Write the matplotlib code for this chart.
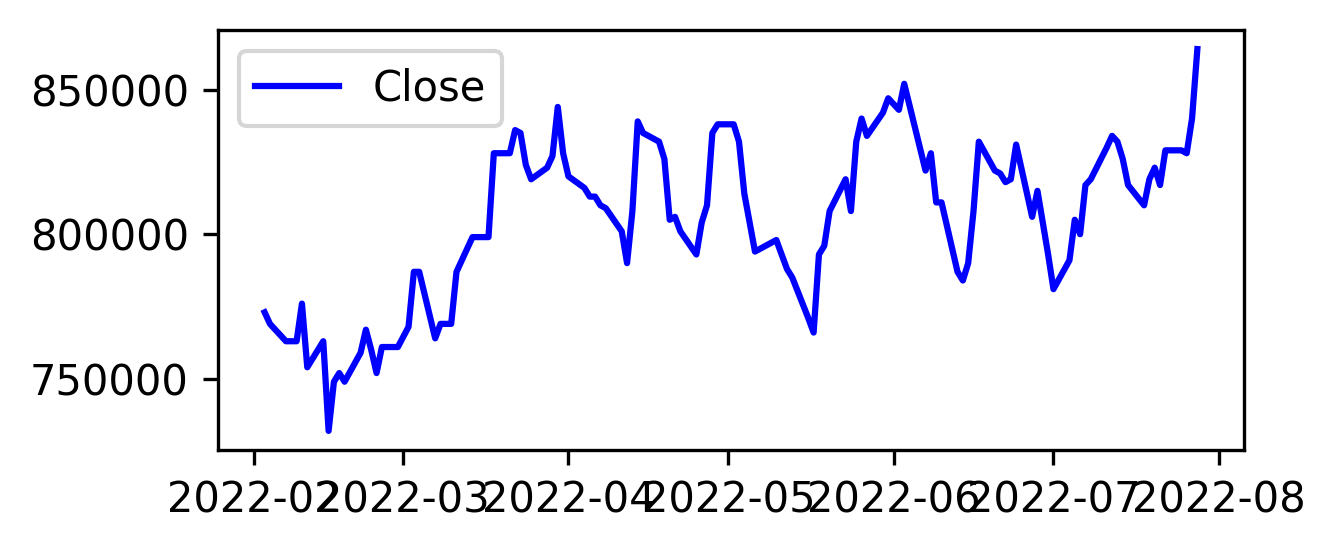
import matplotlib
matplotlib.use("Agg")
import matplotlib.pyplot as plt
import pandas as pd

# KRX trading days, 2022-02-03 .. 2022-07-28
dates = [
    "2022-02-03", "2022-02-04", "2022-02-07", "2022-02-08", "2022-02-09", "2022-02-10",
    "2022-02-11", "2022-02-14", "2022-02-15", "2022-02-16", "2022-02-17", "2022-02-18",
    "2022-02-21", "2022-02-22", "2022-02-23", "2022-02-24", "2022-02-25", "2022-02-28",
    "2022-03-02", "2022-03-03", "2022-03-04", "2022-03-07", "2022-03-08", "2022-03-10",
    "2022-03-11", "2022-03-14", "2022-03-15", "2022-03-16", "2022-03-17", "2022-03-18",
    "2022-03-21", "2022-03-22", "2022-03-23", "2022-03-24", "2022-03-25", "2022-03-28",
    "2022-03-29", "2022-03-30", "2022-03-31", "2022-04-01", "2022-04-04", "2022-04-05",
    "2022-04-06", "2022-04-07", "2022-04-08", "2022-04-11", "2022-04-12", "2022-04-13",
    "2022-04-14", "2022-04-15", "2022-04-18", "2022-04-19", "2022-04-20", "2022-04-21",
    "2022-04-22", "2022-04-25", "2022-04-26", "2022-04-27", "2022-04-28", "2022-04-29",
    "2022-05-02", "2022-05-03", "2022-05-04", "2022-05-06", "2022-05-09", "2022-05-10",
    "2022-05-11", "2022-05-12", "2022-05-13", "2022-05-16", "2022-05-17", "2022-05-18",
    "2022-05-19", "2022-05-20", "2022-05-23", "2022-05-24", "2022-05-25", "2022-05-26",
    "2022-05-27", "2022-05-30", "2022-05-31", "2022-06-02", "2022-06-03", "2022-06-07",
    "2022-06-08", "2022-06-09", "2022-06-10", "2022-06-13", "2022-06-14", "2022-06-15",
    "2022-06-16", "2022-06-17", "2022-06-20", "2022-06-21", "2022-06-22", "2022-06-23",
    "2022-06-24", "2022-06-27", "2022-06-28", "2022-06-29", "2022-06-30", "2022-07-01",
    "2022-07-04", "2022-07-05", "2022-07-06", "2022-07-07", "2022-07-08", "2022-07-11",
    "2022-07-12", "2022-07-13", "2022-07-14", "2022-07-15", "2022-07-18", "2022-07-19",
    "2022-07-20", "2022-07-21", "2022-07-22", "2022-07-25", "2022-07-26", "2022-07-27",
    "2022-07-28",
]

close = [
    773000, 769000, 763000, 763000, 763000, 776000,
    754000, 763000, 732000, 749000, 752000, 749000,
    759000, 767000, 760000, 752000, 761000, 761000,
    768000, 787000, 787000, 764000, 769000, 769000,
    787000, 799000, 799000, 799000, 799000, 828000,
    828000, 836000, 835000, 824000, 819000, 823000,
    827000, 844000, 828000, 820000, 816000, 813000,
    813000, 810000, 809000, 801000, 790000, 808000,
    839000, 835000, 832000, 826000, 805000, 806000,
    801000, 793000, 804000, 810000, 835000, 838000,
    838000, 832000, 814000, 794000, 797000, 798000,
    793000, 788000, 785000, 771000, 766000, 793000,
    796000, 808000, 819000, 808000, 832000, 840000,
    834000, 842000, 847000, 843000, 852000, 822000,
    828000, 811000, 811000, 787000, 784000, 790000,
    808000, 832000, 822000, 821000, 818000, 819000,
    831000, 806000, 815000, 804000, 793000, 781000,
    791000, 805000, 800000, 817000, 819000, 830000,
    834000, 832000, 826000, 817000, 810000, 819000,
    823000, 817000, 829000, 829000, 828000, 840000,
    864000,
]

df = pd.DataFrame({"Close": close}, index=pd.to_datetime(dates))

fig = plt.figure(figsize=(1335 / 300, 551 / 300), dpi=300)
ax = fig.add_axes([218 / 1335, 1 - 450 / 551, (1244 - 218) / 1335, (450 - 30) / 551])
ax.plot(df.index, df["Close"], color="blue", label="Close")
ax.legend(loc="upper left")

fig.savefig("out.png", dpi=300)
